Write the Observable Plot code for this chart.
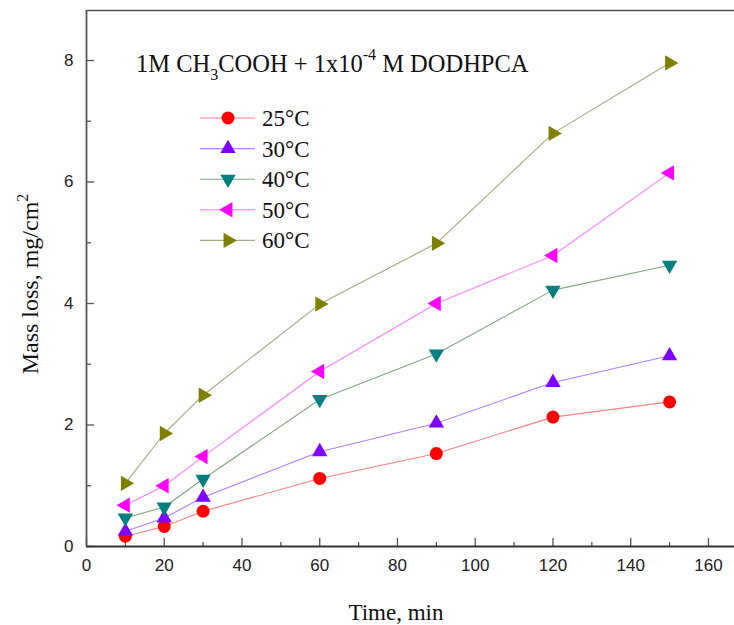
<!DOCTYPE html>
<html>
<head>
<meta charset="utf-8">
<script src="https://cdn.jsdelivr.net/npm/d3@7"></script>
<script src="https://cdn.jsdelivr.net/npm/@observablehq/plot@0.6"></script>
<style>
  html, body { margin: 0; padding: 0; background: #fff; }
  #chart svg { display: block; }
</style>
</head>
<body>
<div id="chart"></div>
<script>
// ---- data ----
const time = [10, 20, 30, 60, 90, 120, 150];
const series = ["25°C", "30°C", "40°C", "50°C", "60°C"];
const t25 = [0.17, 0.33, 0.58, 1.12, 1.53, 2.13, 2.38];
const t30 = [0.25, 0.47, 0.81, 1.56, 2.03, 2.70, 3.14];
const t40 = [0.47, 0.65, 1.11, 2.42, 3.17, 4.22, 4.63];
const t50 = [0.68, 1.00, 1.48, 2.88, 4.00, 4.79, 6.15];
const t60 = [1.04, 1.86, 2.49, 3.99, 4.99, 6.80, 7.96];
const xTicks = [0, 20, 40, 60, 80, 100, 120, 140, 160];
const xMinor = [10, 30, 50, 70, 90, 110, 130, 150];
const yTicks = [0, 2, 4, 6, 8];
const yMinor = [1, 3, 5, 7];

// ---- styles ----
const values = [t25, t30, t40, t50, t60];
const markColor = ["#ff0000", "#7f00ff", "#008080", "#ff00ff", "#808000"];
const lineColor = ["#ff8080", "#b080ff", "#80a880", "#ff80ff", "#a8a880"];
const symbols = ["circle", "triangle", "triangle", "triangle", "triangle"];
const rotation = [0, 0, 180, -90, 90];
const radius = [6.5, 5.7, 5.7, 5.7, 5.7];

const rows = [];
series.forEach((s, i) => values[i].forEach((v, j) => rows.push({series: s, i, time: time[j], loss: v})));

const W = 734, H = 625;
const serif = "'Liberation Serif', 'Times New Roman', serif";
const sans = "'Liberation Sans', Arial, sans-serif";
const axisColor = "#555";

const plot = Plot.plot({
  width: W, height: H,
  marginLeft: 86, marginRight: 0, marginTop: 10, marginBottom: 79,
  style: {fontFamily: sans, fontSize: "17px", color: "#222", background: "#fff", overflow: "visible"},
  x: {domain: [0, 166.7], axis: null},
  y: {domain: [0, 8.823], axis: null},
  r: {type: "identity"},
  marks: [
    Plot.frame({anchor: "top", stroke: axisColor, strokeWidth: 1.5}),
    Plot.axisX({ticks: xMinor, tickSize: -4, text: null, label: null, stroke: axisColor, strokeWidth: 1.3}),
    Plot.axisX({ticks: xTicks, tickSize: -8, tickPadding: 20, tickFormat: d => d, stroke: axisColor, strokeWidth: 1.3, fill: "#222", fontSize: 17, label: null}),
    Plot.axisY({ticks: yMinor, tickSize: -5, text: null, label: null, stroke: axisColor, strokeWidth: 1.3}),
    Plot.axisY({ticks: yTicks, tickSize: -8, tickPadding: 21, tickFormat: d => d, stroke: axisColor, strokeWidth: 1.3, fill: "#222", fontSize: 17, label: null}),
    Plot.ruleY([0], {stroke: "#333", strokeWidth: 1.8}),
    Plot.ruleX([0], {stroke: axisColor, strokeWidth: 1.8}),
    Plot.line(rows, {x: "time", y: "loss", z: "series", stroke: d => lineColor[d.i], strokeWidth: 1.1}),
    Plot.dot(rows, {x: "time", y: "loss", symbol: d => symbols[d.i], rotate: d => rotation[d.i],
      r: d => radius[d.i], fill: d => markColor[d.i], stroke: "none"})
  ]
});

const svg = d3.select(plot);
// title
const title = svg.append("text").attr("x", 136).attr("y", 72).attr("text-anchor", "start")
  .attr("font-family", serif).attr("font-size", 24.5).attr("fill", "#111");
title.append("tspan").text("1M CH");
title.append("tspan").attr("font-size", 16).attr("dy", 8).text("3");
title.append("tspan").attr("dy", -8).text("COOH + 1x10");
title.append("tspan").attr("font-size", 16).attr("dy", -12).text("-4");
title.append("tspan").attr("dy", 12).text(" M DODHPCA");

// legend
const lg = svg.append("g");
series.forEach((s, i) => {
  const cy = 118 + i * 30.6;
  lg.append("line").attr("x1", 200).attr("x2", 255).attr("y1", cy).attr("y2", cy)
    .attr("stroke", lineColor[i]).attr("stroke-width", 1.1);
  const sym = i === 0 ? d3.symbolCircle : d3.symbolTriangle;
  const r = radius[i];
  lg.append("path").attr("d", d3.symbol(sym, Math.PI * r * r)())
    .attr("transform", `translate(228,${cy}) rotate(${rotation[i]})`).attr("fill", markColor[i]);
  lg.append("text").attr("x", 262).attr("y", cy + 8).attr("text-anchor", "start").attr("font-family", serif)
    .attr("font-size", 23).attr("fill", "#111").text(s);
});

// axis labels
svg.append("text").attr("x", 396).attr("y", 620).attr("text-anchor", "middle")
  .attr("font-family", serif).attr("font-size", 23).attr("fill", "#111").text("Time, min");
const yl = svg.append("text").attr("transform", "translate(38,284) rotate(-90)").attr("text-anchor", "middle")
  .attr("font-family", serif).attr("font-size", 24).attr("fill", "#111");
yl.append("tspan").text("Mass loss, mg/cm");
yl.append("tspan").attr("font-size", 16).attr("dy", -10).text("2");

document.getElementById("chart").appendChild(plot);
</script>
</body>
</html>
